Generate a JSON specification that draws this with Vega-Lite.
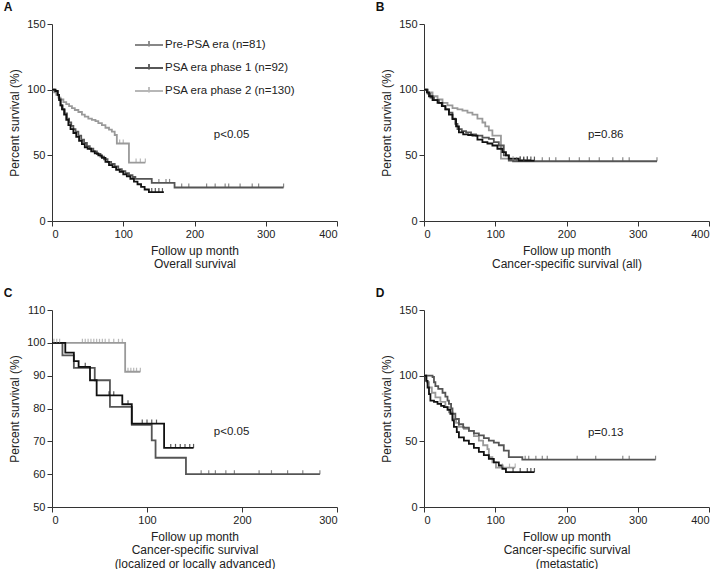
{
"$schema": "https://vega.github.io/schema/vega-lite/v6.json",
"padding": {"left": 3, "top": 1, "right": 0, "bottom": 0},
"config": {
  "view": {"stroke": null},
  "font": "Liberation Sans",
  "axis": {"grid": false, "domainColor": "#333333", "tickColor": "#333333", "labelColor": "#222222", "titleColor": "#222222", "labelFontSize": 11, "titleFontSize": 12, "titleFontWeight": "normal", "tickSize": 5, "labelPadding": 2, "titleLineHeight": 13.5},
  "axisX": {"titlePadding": 6},
  "axisY": {"titlePadding": 5},
  "title": {"anchor": "start", "frame": "bounds", "fontSize": 12, "fontWeight": "bold", "color": "#111111", "offset": 4, "dx": -5}
},
"datasets": {
  "curves": [
    {"p":"A","g":"p2","t":0,"s":100},{"p":"A","g":"p2","t":3,"s":98},{"p":"A","g":"p2","t":6,"s":96},{"p":"A","g":"p2","t":9,"s":94},{"p":"A","g":"p2","t":12,"s":92.5},{"p":"A","g":"p2","t":16,"s":90.5},{"p":"A","g":"p2","t":20,"s":89},{"p":"A","g":"p2","t":24,"s":87.5},{"p":"A","g":"p2","t":28,"s":86},{"p":"A","g":"p2","t":32,"s":84.5},{"p":"A","g":"p2","t":37,"s":83},{"p":"A","g":"p2","t":42,"s":81},{"p":"A","g":"p2","t":46,"s":79.5},{"p":"A","g":"p2","t":51,"s":78},{"p":"A","g":"p2","t":56,"s":77},{"p":"A","g":"p2","t":61,"s":76},{"p":"A","g":"p2","t":65,"s":74.5},{"p":"A","g":"p2","t":70,"s":73},{"p":"A","g":"p2","t":75,"s":71},{"p":"A","g":"p2","t":80,"s":69.5},{"p":"A","g":"p2","t":84,"s":68},{"p":"A","g":"p2","t":88,"s":65.5},{"p":"A","g":"p2","t":91,"s":59},{"p":"A","g":"p2","t":108,"s":44.5},{"p":"A","g":"p2","t":131,"s":44.5},
    {"p":"A","g":"pre","t":0,"s":100},{"p":"A","g":"pre","t":4,"s":98.8},{"p":"A","g":"pre","t":8,"s":96},{"p":"A","g":"pre","t":10,"s":93},{"p":"A","g":"pre","t":12,"s":88},{"p":"A","g":"pre","t":15,"s":85},{"p":"A","g":"pre","t":18,"s":82},{"p":"A","g":"pre","t":21,"s":78},{"p":"A","g":"pre","t":24,"s":75},{"p":"A","g":"pre","t":27,"s":72.5},{"p":"A","g":"pre","t":30,"s":70},{"p":"A","g":"pre","t":33,"s":68},{"p":"A","g":"pre","t":37,"s":65},{"p":"A","g":"pre","t":41,"s":62},{"p":"A","g":"pre","t":45,"s":59.5},{"p":"A","g":"pre","t":49,"s":57},{"p":"A","g":"pre","t":53,"s":55},{"p":"A","g":"pre","t":58,"s":53},{"p":"A","g":"pre","t":63,"s":51},{"p":"A","g":"pre","t":68,"s":49},{"p":"A","g":"pre","t":73,"s":47},{"p":"A","g":"pre","t":78,"s":45},{"p":"A","g":"pre","t":83,"s":43.5},{"p":"A","g":"pre","t":88,"s":41.5},{"p":"A","g":"pre","t":93,"s":39.5},{"p":"A","g":"pre","t":98,"s":38},{"p":"A","g":"pre","t":103,"s":36.5},{"p":"A","g":"pre","t":108,"s":35},{"p":"A","g":"pre","t":113,"s":33.5},{"p":"A","g":"pre","t":117,"s":32},{"p":"A","g":"pre","t":140,"s":29},{"p":"A","g":"pre","t":172,"s":25.5},{"p":"A","g":"pre","t":325,"s":25.5},
    {"p":"A","g":"p1","t":0,"s":100},{"p":"A","g":"p1","t":5,"s":99},{"p":"A","g":"p1","t":8,"s":96},{"p":"A","g":"p1","t":10,"s":92},{"p":"A","g":"p1","t":12,"s":88},{"p":"A","g":"p1","t":14,"s":85},{"p":"A","g":"p1","t":17,"s":81},{"p":"A","g":"p1","t":20,"s":77},{"p":"A","g":"p1","t":23,"s":73},{"p":"A","g":"p1","t":26,"s":70},{"p":"A","g":"p1","t":30,"s":67},{"p":"A","g":"p1","t":34,"s":64},{"p":"A","g":"p1","t":38,"s":61},{"p":"A","g":"p1","t":42,"s":58.5},{"p":"A","g":"p1","t":46,"s":56},{"p":"A","g":"p1","t":50,"s":55},{"p":"A","g":"p1","t":55,"s":53},{"p":"A","g":"p1","t":60,"s":51.5},{"p":"A","g":"p1","t":65,"s":50},{"p":"A","g":"p1","t":70,"s":48},{"p":"A","g":"p1","t":75,"s":45},{"p":"A","g":"p1","t":80,"s":42.5},{"p":"A","g":"p1","t":85,"s":41},{"p":"A","g":"p1","t":90,"s":39},{"p":"A","g":"p1","t":95,"s":37.5},{"p":"A","g":"p1","t":100,"s":35.5},{"p":"A","g":"p1","t":105,"s":34},{"p":"A","g":"p1","t":110,"s":32},{"p":"A","g":"p1","t":115,"s":30},{"p":"A","g":"p1","t":120,"s":28},{"p":"A","g":"p1","t":125,"s":26},{"p":"A","g":"p1","t":130,"s":24},{"p":"A","g":"p1","t":136,"s":22},{"p":"A","g":"p1","t":157,"s":22},

    {"p":"B","g":"p2","t":0,"s":100},{"p":"B","g":"p2","t":5,"s":98},{"p":"B","g":"p2","t":12,"s":95},{"p":"B","g":"p2","t":19,"s":92.5},{"p":"B","g":"p2","t":26,"s":90},{"p":"B","g":"p2","t":33,"s":88},{"p":"B","g":"p2","t":40,"s":86},{"p":"B","g":"p2","t":47,"s":85},{"p":"B","g":"p2","t":54,"s":84},{"p":"B","g":"p2","t":61,"s":82.5},{"p":"B","g":"p2","t":68,"s":81},{"p":"B","g":"p2","t":75,"s":78},{"p":"B","g":"p2","t":82,"s":75},{"p":"B","g":"p2","t":86,"s":72},{"p":"B","g":"p2","t":91,"s":69},{"p":"B","g":"p2","t":96,"s":65},{"p":"B","g":"p2","t":108,"s":47.5},{"p":"B","g":"p2","t":120,"s":46.5},{"p":"B","g":"p2","t":150,"s":46.5},
    {"p":"B","g":"pre","t":0,"s":100},{"p":"B","g":"pre","t":5,"s":97},{"p":"B","g":"pre","t":9,"s":94},{"p":"B","g":"pre","t":14,"s":92},{"p":"B","g":"pre","t":21,"s":90},{"p":"B","g":"pre","t":26,"s":87.5},{"p":"B","g":"pre","t":30,"s":85},{"p":"B","g":"pre","t":35,"s":82.5},{"p":"B","g":"pre","t":40,"s":78},{"p":"B","g":"pre","t":44,"s":74},{"p":"B","g":"pre","t":47,"s":70},{"p":"B","g":"pre","t":53,"s":68.5},{"p":"B","g":"pre","t":59,"s":67.5},{"p":"B","g":"pre","t":66,"s":66},{"p":"B","g":"pre","t":73,"s":65},{"p":"B","g":"pre","t":82,"s":63.5},{"p":"B","g":"pre","t":91,"s":62.5},{"p":"B","g":"pre","t":98,"s":60},{"p":"B","g":"pre","t":105,"s":57.5},{"p":"B","g":"pre","t":112,"s":50},{"p":"B","g":"pre","t":119,"s":46},{"p":"B","g":"pre","t":125,"s":45.5},{"p":"B","g":"pre","t":327,"s":45.5},
    {"p":"B","g":"p1","t":0,"s":100},{"p":"B","g":"p1","t":4,"s":98},{"p":"B","g":"p1","t":7,"s":95},{"p":"B","g":"p1","t":12,"s":92},{"p":"B","g":"p1","t":19,"s":90},{"p":"B","g":"p1","t":25,"s":87.5},{"p":"B","g":"p1","t":30,"s":85},{"p":"B","g":"p1","t":35,"s":81},{"p":"B","g":"p1","t":40,"s":77.5},{"p":"B","g":"p1","t":45,"s":72},{"p":"B","g":"p1","t":49,"s":67.5},{"p":"B","g":"p1","t":55,"s":66},{"p":"B","g":"p1","t":62,"s":65.5},{"p":"B","g":"p1","t":68,"s":65},{"p":"B","g":"p1","t":75,"s":62},{"p":"B","g":"p1","t":82,"s":60},{"p":"B","g":"p1","t":89,"s":59},{"p":"B","g":"p1","t":96,"s":57.5},{"p":"B","g":"p1","t":103,"s":55},{"p":"B","g":"p1","t":110,"s":52.5},{"p":"B","g":"p1","t":115,"s":50},{"p":"B","g":"p1","t":119,"s":47.5},{"p":"B","g":"p1","t":133,"s":46},{"p":"B","g":"p1","t":155,"s":46},

    {"p":"C","g":"p2","t":0,"s":100},{"p":"C","g":"p2","t":77,"s":91.2},{"p":"C","g":"p2","t":93,"s":91.2},
    {"p":"C","g":"pre","t":0,"s":100},{"p":"C","g":"pre","t":11,"s":96.2},{"p":"C","g":"pre","t":23,"s":92.4},{"p":"C","g":"pre","t":45,"s":88.6},{"p":"C","g":"pre","t":61,"s":80.5},{"p":"C","g":"pre","t":84,"s":75},{"p":"C","g":"pre","t":105,"s":70.3},{"p":"C","g":"pre","t":109,"s":65},{"p":"C","g":"pre","t":141,"s":60},{"p":"C","g":"pre","t":282,"s":60},
    {"p":"C","g":"p1","t":0,"s":100},{"p":"C","g":"p1","t":14,"s":97},{"p":"C","g":"p1","t":23,"s":94.4},{"p":"C","g":"p1","t":28,"s":92.7},{"p":"C","g":"p1","t":40,"s":88.6},{"p":"C","g":"p1","t":47,"s":84},{"p":"C","g":"p1","t":74,"s":81.3},{"p":"C","g":"p1","t":84,"s":75.4},{"p":"C","g":"p1","t":118,"s":68},{"p":"C","g":"p1","t":149,"s":68},

    {"p":"D","g":"p2","t":0,"s":100},{"p":"D","g":"p2","t":4,"s":95},{"p":"D","g":"p2","t":7,"s":91},{"p":"D","g":"p2","t":11,"s":87},{"p":"D","g":"p2","t":16,"s":83.5},{"p":"D","g":"p2","t":23,"s":80},{"p":"D","g":"p2","t":30,"s":76},{"p":"D","g":"p2","t":35,"s":72},{"p":"D","g":"p2","t":40,"s":67},{"p":"D","g":"p2","t":45,"s":64},{"p":"D","g":"p2","t":49,"s":61},{"p":"D","g":"p2","t":56,"s":59.5},{"p":"D","g":"p2","t":63,"s":58},{"p":"D","g":"p2","t":70,"s":54},{"p":"D","g":"p2","t":77,"s":50.6},{"p":"D","g":"p2","t":83,"s":47},{"p":"D","g":"p2","t":89,"s":44},{"p":"D","g":"p2","t":91,"s":38},{"p":"D","g":"p2","t":96,"s":34},{"p":"D","g":"p2","t":101,"s":30},{"p":"D","g":"p2","t":128,"s":30},
    {"p":"D","g":"pre","t":0,"s":100},{"p":"D","g":"pre","t":12,"s":99},{"p":"D","g":"pre","t":14,"s":95},{"p":"D","g":"pre","t":16,"s":92},{"p":"D","g":"pre","t":20,"s":90},{"p":"D","g":"pre","t":26,"s":87},{"p":"D","g":"pre","t":30,"s":84},{"p":"D","g":"pre","t":33,"s":81},{"p":"D","g":"pre","t":35,"s":78.5},{"p":"D","g":"pre","t":38,"s":75},{"p":"D","g":"pre","t":40,"s":71},{"p":"D","g":"pre","t":44,"s":67},{"p":"D","g":"pre","t":49,"s":63},{"p":"D","g":"pre","t":55,"s":60.5},{"p":"D","g":"pre","t":63,"s":58},{"p":"D","g":"pre","t":70,"s":56},{"p":"D","g":"pre","t":77,"s":54.5},{"p":"D","g":"pre","t":84,"s":52.5},{"p":"D","g":"pre","t":91,"s":50.6},{"p":"D","g":"pre","t":98,"s":49},{"p":"D","g":"pre","t":105,"s":47},{"p":"D","g":"pre","t":112,"s":43},{"p":"D","g":"pre","t":119,"s":38},{"p":"D","g":"pre","t":138,"s":36},{"p":"D","g":"pre","t":325,"s":36},
    {"p":"D","g":"p1","t":0,"s":100},{"p":"D","g":"p1","t":3,"s":96},{"p":"D","g":"p1","t":5,"s":91},{"p":"D","g":"p1","t":7,"s":86},{"p":"D","g":"p1","t":9,"s":81},{"p":"D","g":"p1","t":14,"s":80},{"p":"D","g":"p1","t":19,"s":78.5},{"p":"D","g":"p1","t":24,"s":77},{"p":"D","g":"p1","t":28,"s":76},{"p":"D","g":"p1","t":33,"s":74},{"p":"D","g":"p1","t":37,"s":71},{"p":"D","g":"p1","t":40,"s":66},{"p":"D","g":"p1","t":42,"s":61},{"p":"D","g":"p1","t":46,"s":57},{"p":"D","g":"p1","t":49,"s":53},{"p":"D","g":"p1","t":56,"s":50.5},{"p":"D","g":"p1","t":63,"s":48},{"p":"D","g":"p1","t":70,"s":45},{"p":"D","g":"p1","t":77,"s":42},{"p":"D","g":"p1","t":84,"s":39.5},{"p":"D","g":"p1","t":91,"s":36.7},{"p":"D","g":"p1","t":98,"s":34},{"p":"D","g":"p1","t":105,"s":31.6},{"p":"D","g":"p1","t":110,"s":29},{"p":"D","g":"p1","t":115,"s":26.6},{"p":"D","g":"p1","t":155,"s":26.6}
  ],
  "censor": [
    {"p":"A","g":"p2","t":95,"s":59},{"p":"A","g":"p2","t":100,"s":59},{"p":"A","g":"p2","t":118,"s":44.5},{"p":"A","g":"p2","t":124,"s":44.5},{"p":"A","g":"p2","t":131,"s":44.5},
    {"p":"A","g":"pre","t":150,"s":29},{"p":"A","g":"pre","t":160,"s":29},{"p":"A","g":"pre","t":165,"s":29},{"p":"A","g":"pre","t":182,"s":25.5},{"p":"A","g":"pre","t":192,"s":25.5},{"p":"A","g":"pre","t":217,"s":25.5},{"p":"A","g":"pre","t":229,"s":25.5},{"p":"A","g":"pre","t":243,"s":25.5},{"p":"A","g":"pre","t":248,"s":25.5},{"p":"A","g":"pre","t":264,"s":25.5},{"p":"A","g":"pre","t":281,"s":25.5},{"p":"A","g":"pre","t":290,"s":25.5},{"p":"A","g":"pre","t":325,"s":25.5},
    {"p":"A","g":"p1","t":140,"s":22},{"p":"A","g":"p1","t":145,"s":22},{"p":"A","g":"p1","t":150,"s":22},{"p":"A","g":"p1","t":155,"s":22},
    {"p":"B","g":"p2","t":125,"s":46.5},{"p":"B","g":"p2","t":135,"s":46.5},{"p":"B","g":"p2","t":145,"s":46.5},
    {"p":"B","g":"pre","t":130,"s":45.5},{"p":"B","g":"pre","t":140,"s":45.5},{"p":"B","g":"pre","t":166,"s":45.5},{"p":"B","g":"pre","t":176,"s":45.5},{"p":"B","g":"pre","t":185,"s":45.5},{"p":"B","g":"pre","t":204,"s":45.5},{"p":"B","g":"pre","t":218,"s":45.5},{"p":"B","g":"pre","t":232,"s":45.5},{"p":"B","g":"pre","t":246,"s":45.5},{"p":"B","g":"pre","t":265,"s":45.5},{"p":"B","g":"pre","t":279,"s":45.5},{"p":"B","g":"pre","t":288,"s":45.5},{"p":"B","g":"pre","t":327,"s":45.5},
    {"p":"B","g":"p1","t":135,"s":46},{"p":"B","g":"p1","t":140,"s":46},{"p":"B","g":"p1","t":145,"s":46},{"p":"B","g":"p1","t":150,"s":46},{"p":"B","g":"p1","t":155,"s":46},
    {"p":"C","g":"p2","t":2,"s":100},{"p":"C","g":"p2","t":5,"s":100},{"p":"C","g":"p2","t":8,"s":100},{"p":"C","g":"p2","t":32,"s":100},{"p":"C","g":"p2","t":35,"s":100},{"p":"C","g":"p2","t":38,"s":100},{"p":"C","g":"p2","t":41,"s":100},{"p":"C","g":"p2","t":44,"s":100},{"p":"C","g":"p2","t":47,"s":100},{"p":"C","g":"p2","t":50,"s":100},{"p":"C","g":"p2","t":53,"s":100},{"p":"C","g":"p2","t":56,"s":100},{"p":"C","g":"p2","t":60,"s":100},{"p":"C","g":"p2","t":65,"s":100},{"p":"C","g":"p2","t":70,"s":100},{"p":"C","g":"p2","t":74,"s":100},{"p":"C","g":"p2","t":80,"s":91.2},{"p":"C","g":"p2","t":83,"s":91.2},{"p":"C","g":"p2","t":86,"s":91.2},{"p":"C","g":"p2","t":89,"s":91.2},{"p":"C","g":"p2","t":93,"s":91.2},
    {"p":"C","g":"pre","t":157,"s":60},{"p":"C","g":"pre","t":165,"s":60},{"p":"C","g":"pre","t":172,"s":60},{"p":"C","g":"pre","t":183,"s":60},{"p":"C","g":"pre","t":192,"s":60},{"p":"C","g":"pre","t":218,"s":60},{"p":"C","g":"pre","t":231,"s":60},{"p":"C","g":"pre","t":248,"s":60},{"p":"C","g":"pre","t":264,"s":60},{"p":"C","g":"pre","t":282,"s":60},
    {"p":"C","g":"p1","t":35,"s":92.7},{"p":"C","g":"p1","t":60,"s":84},{"p":"C","g":"p1","t":65,"s":84},{"p":"C","g":"p1","t":80,"s":81.3},{"p":"C","g":"p1","t":95,"s":75.4},{"p":"C","g":"p1","t":100,"s":75.4},{"p":"C","g":"p1","t":105,"s":75.4},{"p":"C","g":"p1","t":110,"s":75.4},{"p":"C","g":"p1","t":125,"s":68},{"p":"C","g":"p1","t":130,"s":68},{"p":"C","g":"p1","t":135,"s":68},{"p":"C","g":"p1","t":140,"s":68},{"p":"C","g":"p1","t":145,"s":68},{"p":"C","g":"p1","t":149,"s":68},
    {"p":"D","g":"p2","t":110,"s":30},{"p":"D","g":"p2","t":120,"s":30},{"p":"D","g":"p2","t":128,"s":30},
    {"p":"D","g":"pre","t":142,"s":36},{"p":"D","g":"pre","t":147,"s":36},{"p":"D","g":"pre","t":157,"s":36},{"p":"D","g":"pre","t":166,"s":36},{"p":"D","g":"pre","t":173,"s":36},{"p":"D","g":"pre","t":215,"s":36},{"p":"D","g":"pre","t":241,"s":36},{"p":"D","g":"pre","t":279,"s":36},{"p":"D","g":"pre","t":288,"s":36},{"p":"D","g":"pre","t":325,"s":36},
    {"p":"D","g":"p1","t":125,"s":26.6},{"p":"D","g":"p1","t":135,"s":26.6},{"p":"D","g":"p1","t":145,"s":26.6},{"p":"D","g":"p1","t":150,"s":26.6},{"p":"D","g":"p1","t":155,"s":26.6}
  ],
  "ptext": [
    {"p":"A","t":252,"s":65.7,"label":"p<0.05"},
    {"p":"B","t":255,"s":65.7,"label":"p=0.86"},
    {"p":"C","t":189,"s":72.7,"label":"p<0.05"},
    {"p":"D","t":255,"s":56.5,"label":"p=0.13"}
  ]
},
"resolve": {"scale": {"color": "independent"}, "legend": {"color": "independent"}},
"spacing": 17,
"vconcat": [
  {
    "hconcat": [
      {
        "width": 285, "height": 197,
        "title": {"text": "A"},
        "encoding": {
          "x": {"field": "t", "type": "quantitative", "scale": {"domain": [0, 400], "nice": false}, "axis": {"values": [0, 100, 200, 300, 400], "title": ["Follow up month", "Overall survival"]}},
          "y": {"field": "s", "type": "quantitative", "scale": {"domain": [0, 150], "nice": false}, "axis": {"values": [0, 50, 100, 150], "title": "Percent survival (%)"}}
        },
        "layer": [
          {"data": {"name": "curves"}, "transform": [{"filter": "datum.p == 'A'"}],
           "mark": {"type": "line", "interpolate": "step-after", "strokeWidth": 1.8},
           "encoding": {"color": {"field": "g", "type": "nominal", "sort": ["pre", "p1", "p2"], "scale": {"domain": ["pre", "p1", "p2"], "range": ["#555555", "#111111", "#9a9a9a"]},
             "legend": {"orient": "none", "legendX": 86, "legendY": 10, "title": null, "direction": "vertical", "symbolType": "M-1.4,0H1.4M0,0.15V-0.4", "symbolSize": 400, "symbolStrokeWidth": 1.8, "symbolFillColor": "transparent", "labelFontSize": 11.5, "labelColor": "#222222", "labelOffset": 5, "rowPadding": 6,
               "labelExpr": "datum.value == 'pre' ? 'Pre-PSA era (n=81)' : datum.value == 'p1' ? 'PSA era phase 1 (n=92)' : 'PSA era phase 2 (n=130)'"}}}},
          {"data": {"name": "censor"}, "transform": [{"filter": "datum.p == 'A'"}],
           "mark": {"type": "tick", "orient": "vertical", "size": 4, "thickness": 1.2, "yOffset": -2},
           "encoding": {"color": {"field": "g", "type": "nominal", "scale": {"domain": ["pre", "p1", "p2"], "range": ["#555555", "#111111", "#9a9a9a"]}}}},
          {"data": {"name": "ptext"}, "transform": [{"filter": "datum.p == 'A'"}],
           "mark": {"type": "text", "fontSize": 11.5, "color": "#222222"},
           "encoding": {"text": {"field": "label"}}}
        ]
      },
      {
        "width": 285, "height": 197,
        "title": {"text": "B"},
        "encoding": {
          "x": {"field": "t", "type": "quantitative", "scale": {"domain": [0, 400], "nice": false}, "axis": {"values": [0, 100, 200, 300, 400], "labelFlush": true, "title": ["Follow up month", "Cancer-specific survival (all)"]}},
          "y": {"field": "s", "type": "quantitative", "scale": {"domain": [0, 150], "nice": false}, "axis": {"values": [0, 50, 100, 150], "title": "Percent survival (%)"}}
        },
        "layer": [
          {"data": {"name": "curves"}, "transform": [{"filter": "datum.p == 'B'"}],
           "mark": {"type": "line", "interpolate": "step-after", "strokeWidth": 1.8},
           "encoding": {"color": {"field": "g", "type": "nominal", "scale": {"domain": ["pre", "p1", "p2"], "range": ["#555555", "#111111", "#9a9a9a"]}, "legend": null}}},
          {"data": {"name": "censor"}, "transform": [{"filter": "datum.p == 'B'"}],
           "mark": {"type": "tick", "orient": "vertical", "size": 4, "thickness": 1.2, "yOffset": -2},
           "encoding": {"color": {"field": "g", "type": "nominal", "scale": {"domain": ["pre", "p1", "p2"], "range": ["#555555", "#111111", "#9a9a9a"]}, "legend": null}}},
          {"data": {"name": "ptext"}, "transform": [{"filter": "datum.p == 'B'"}],
           "mark": {"type": "text", "fontSize": 11.5, "color": "#222222"},
           "encoding": {"text": {"field": "label"}}}
        ]
      }
    ],
    "spacing": 37,
    "resolve": {"scale": {"color": "independent"}, "legend": {"color": "independent"}}
  },
  {
    "hconcat": [
      {
        "width": 285, "height": 197,
        "title": {"text": "C"},
        "encoding": {
          "x": {"field": "t", "type": "quantitative", "scale": {"domain": [0, 300], "nice": false}, "axis": {"values": [0, 100, 200, 300], "title": ["Follow up month", "Cancer-specific survival", "(localized or locally advanced)"]}},
          "y": {"field": "s", "type": "quantitative", "scale": {"domain": [50, 110], "nice": false}, "axis": {"values": [50, 60, 70, 80, 90, 100, 110], "title": "Percent survival (%)"}}
        },
        "layer": [
          {"data": {"name": "curves"}, "transform": [{"filter": "datum.p == 'C'"}],
           "mark": {"type": "line", "interpolate": "step-after", "strokeWidth": 1.8},
           "encoding": {"color": {"field": "g", "type": "nominal", "scale": {"domain": ["pre", "p1", "p2"], "range": ["#555555", "#111111", "#9a9a9a"]}, "legend": null}}},
          {"data": {"name": "censor"}, "transform": [{"filter": "datum.p == 'C'"}],
           "mark": {"type": "tick", "orient": "vertical", "size": 4, "thickness": 1.2, "yOffset": -2},
           "encoding": {"color": {"field": "g", "type": "nominal", "scale": {"domain": ["pre", "p1", "p2"], "range": ["#555555", "#111111", "#9a9a9a"]}, "legend": null}}},
          {"data": {"name": "ptext"}, "transform": [{"filter": "datum.p == 'C'"}],
           "mark": {"type": "text", "fontSize": 11.5, "color": "#222222"},
           "encoding": {"text": {"field": "label"}}}
        ]
      },
      {
        "width": 285, "height": 197,
        "title": {"text": "D"},
        "encoding": {
          "x": {"field": "t", "type": "quantitative", "scale": {"domain": [0, 400], "nice": false}, "axis": {"values": [0, 100, 200, 300, 400], "labelFlush": true, "title": ["Follow up month", "Cancer-specific survival", "(metastatic)"]}},
          "y": {"field": "s", "type": "quantitative", "scale": {"domain": [0, 150], "nice": false}, "axis": {"values": [0, 50, 100, 150], "title": "Percent survival (%)"}}
        },
        "layer": [
          {"data": {"name": "curves"}, "transform": [{"filter": "datum.p == 'D'"}],
           "mark": {"type": "line", "interpolate": "step-after", "strokeWidth": 1.8},
           "encoding": {"color": {"field": "g", "type": "nominal", "scale": {"domain": ["pre", "p1", "p2"], "range": ["#555555", "#111111", "#9a9a9a"]}, "legend": null}}},
          {"data": {"name": "censor"}, "transform": [{"filter": "datum.p == 'D'"}],
           "mark": {"type": "tick", "orient": "vertical", "size": 4, "thickness": 1.2, "yOffset": -2},
           "encoding": {"color": {"field": "g", "type": "nominal", "scale": {"domain": ["pre", "p1", "p2"], "range": ["#555555", "#111111", "#9a9a9a"]}, "legend": null}}},
          {"data": {"name": "ptext"}, "transform": [{"filter": "datum.p == 'D'"}],
           "mark": {"type": "text", "fontSize": 11.5, "color": "#222222"},
           "encoding": {"text": {"field": "label"}}}
        ]
      }
    ],
    "spacing": 37,
    "resolve": {"scale": {"color": "independent"}, "legend": {"color": "independent"}}
  }
]
}
